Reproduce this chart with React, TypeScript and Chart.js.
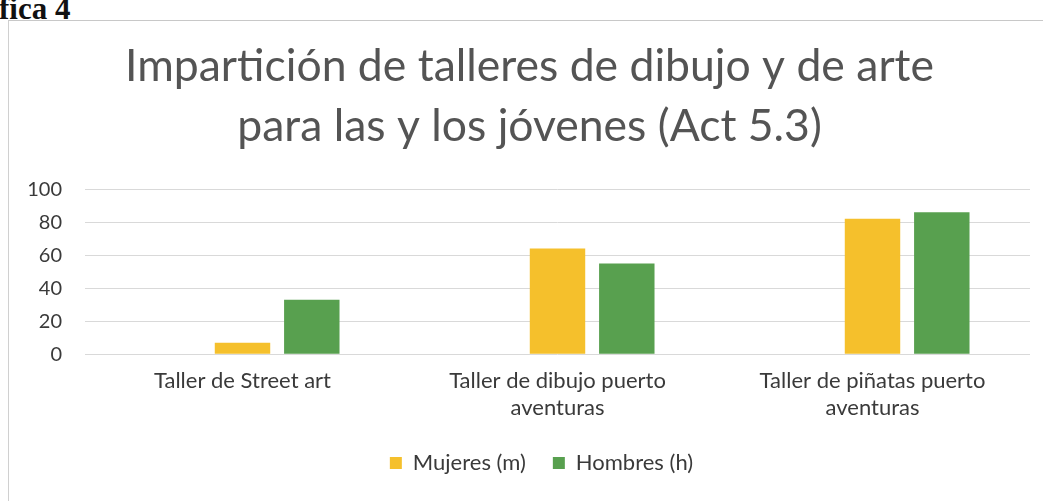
import React, { useEffect, useRef } from "react";
import { Chart, registerables } from "chart.js";

Chart.register(...registerables);

const categories: (string | string[])[] = [
  "Taller de Street art",
  ["Taller de dibujo puerto", "aventuras"],
  ["Taller de piñatas puerto", "aventuras"],
];
const mujeres: number[] = [7, 64, 82];
const hombres: number[] = [33, 55, 86];
const spacer: (number | null)[] = [null, null, null];
const titleLines: string[] = [
  "Impartición de talleres de dibujo y de arte",
  "para las y los jóvenes (Act 5.3)",
];
const seriesNames: string[] = ["Mujeres (m)", "Hombres (h)"];

const FONT = "Lato, 'Open Sans', sans-serif";

const legendShift = {
  id: "legendShift",
  afterLayout(chart: any) {
    if (chart.legend) {
      chart.legend.left += 12;
      chart.legend.right += 12;
    }
  },
};

export default function App() {
  const ref = useRef<HTMLCanvasElement | null>(null);

  useEffect(() => {
    if (!ref.current) return;
    const chart = new Chart(ref.current, {
      type: "bar",
      data: {
        labels: categories,
        datasets: [
          {
            label: "",
            data: spacer,
            backgroundColor: "rgba(0,0,0,0)",
            barPercentage: 0.8,
            categoryPercentage: 0.66,
          },
          {
            label: seriesNames[0],
            data: mujeres,
            backgroundColor: "#F5C02C",
            barPercentage: 0.8,
            categoryPercentage: 0.66,
          },
          {
            label: seriesNames[1],
            data: hombres,
            backgroundColor: "#58A04F",
            barPercentage: 0.8,
            categoryPercentage: 0.66,
          },
        ],
      },
      plugins: [legendShift],
      options: {
        animation: false,
        responsive: true,
        maintainAspectRatio: false,
        layout: { padding: { left: 20, right: 13, top: 0, bottom: 17 } },
        plugins: {
          title: {
            display: true,
            text: titleLines,
            color: "#545454",
            font: { family: FONT, size: 44.5, weight: "normal", lineHeight: 1.35 },
            padding: { top: 16, bottom: 32 },
          },
          legend: {
            position: "bottom",
            labels: {
              filter: (item) => item.text !== "",
              boxWidth: 12,
              boxHeight: 12,
              color: "#3a3a3a",
              font: { family: FONT, size: 22 },
              padding: 27,
            },
          },
          tooltip: { enabled: false },
        },
        scales: {
          x: {
            grid: { display: false },
            border: { display: false },
            afterFit: (axis) => {
              axis.height -= 2;
            },
            ticks: {
              color: "#3a3a3a",
              font: { family: FONT, size: 22, lineHeight: 1.2 },
              maxRotation: 0,
              autoSkip: false,
              padding: 6,
            },
          },
          y: {
            min: 0,
            max: 100,
            afterFit: (axis) => {
              axis.width = 56;
            },
            ticks: {
              stepSize: 20,
              color: "#3a3a3a",
              font: { family: FONT, size: 20 },
              padding: 23,
            },
            grid: { color: "#d9d9d9", drawTicks: false },
            border: { display: false },
          },
        },
      },
    });
    return () => chart.destroy();
  }, []);

  return (
    <div
      style={{
        position: "fixed",
        left: 0,
        top: 0,
        width: 1047,
        height: 501,
        background: "#ffffff",
        overflow: "hidden",
      }}
    >
      <div
        style={{
          position: "absolute",
          left: -1,
          top: -8,
          fontFamily: "'Liberation Serif', serif",
          fontWeight: "bold",
          fontSize: 31,
          lineHeight: "34px",
          color: "#111",
        }}
      >
        fica 4
      </div>
      <div
        style={{
          position: "absolute",
          left: 8,
          top: 20,
          width: 1035,
          height: 481,
          borderTop: "1px solid #c8c8c8",
          borderLeft: "1px solid #d0d0d0",
          boxSizing: "border-box",
        }}
      >
        <canvas ref={ref} />
      </div>
    </div>
  );
}
